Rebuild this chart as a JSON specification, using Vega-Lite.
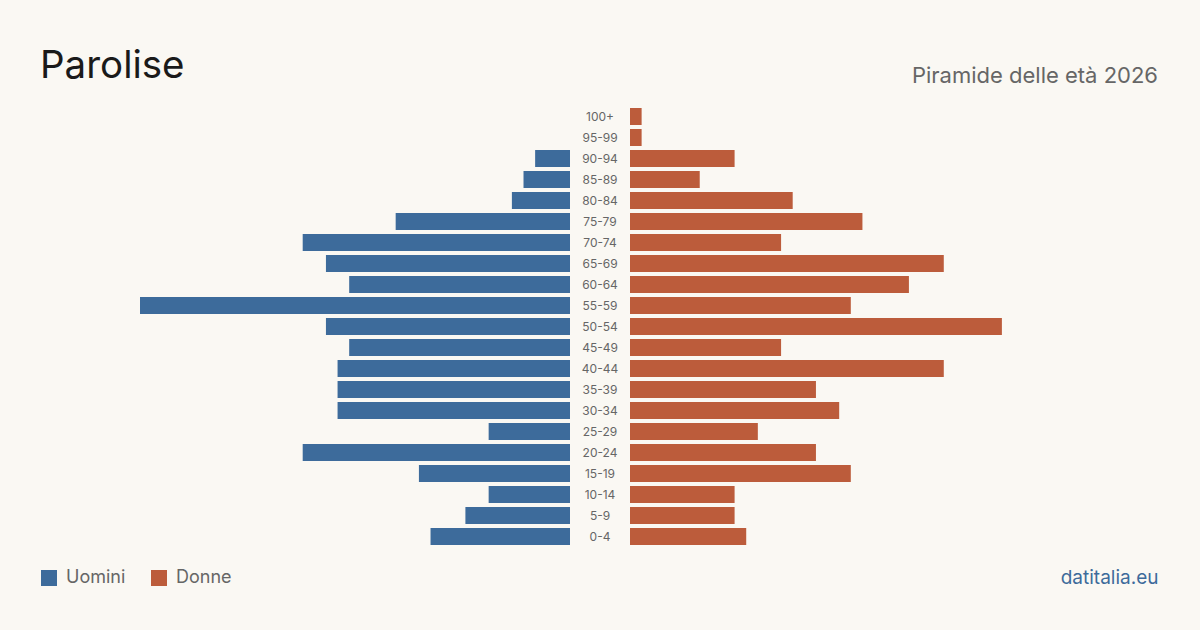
{
  "$schema": "https://vega.github.io/schema/vega-lite/v6.json",
  "background": "#faf8f3",
  "padding": {"left": 40, "top": 46, "right": 44, "bottom": 48},
  "autosize": {"type": "pad"},
  "config": {
    "view": {"stroke": null},
    "font": "Inter",
    "concat": {"spacing": 0}
  },
  "datasets": {
    "pop": [
      {"age": "100+", "sex": "Uomini", "value": 0}, {"age": "100+", "sex": "Donne", "value": 1},
      {"age": "95-99", "sex": "Uomini", "value": 0}, {"age": "95-99", "sex": "Donne", "value": 1},
      {"age": "90-94", "sex": "Uomini", "value": 3}, {"age": "90-94", "sex": "Donne", "value": 9},
      {"age": "85-89", "sex": "Uomini", "value": 4}, {"age": "85-89", "sex": "Donne", "value": 6},
      {"age": "80-84", "sex": "Uomini", "value": 5}, {"age": "80-84", "sex": "Donne", "value": 14},
      {"age": "75-79", "sex": "Uomini", "value": 15}, {"age": "75-79", "sex": "Donne", "value": 20},
      {"age": "70-74", "sex": "Uomini", "value": 23}, {"age": "70-74", "sex": "Donne", "value": 13},
      {"age": "65-69", "sex": "Uomini", "value": 21}, {"age": "65-69", "sex": "Donne", "value": 27},
      {"age": "60-64", "sex": "Uomini", "value": 19}, {"age": "60-64", "sex": "Donne", "value": 24},
      {"age": "55-59", "sex": "Uomini", "value": 37}, {"age": "55-59", "sex": "Donne", "value": 19},
      {"age": "50-54", "sex": "Uomini", "value": 21}, {"age": "50-54", "sex": "Donne", "value": 32},
      {"age": "45-49", "sex": "Uomini", "value": 19}, {"age": "45-49", "sex": "Donne", "value": 13},
      {"age": "40-44", "sex": "Uomini", "value": 20}, {"age": "40-44", "sex": "Donne", "value": 27},
      {"age": "35-39", "sex": "Uomini", "value": 20}, {"age": "35-39", "sex": "Donne", "value": 16},
      {"age": "30-34", "sex": "Uomini", "value": 20}, {"age": "30-34", "sex": "Donne", "value": 18},
      {"age": "25-29", "sex": "Uomini", "value": 7}, {"age": "25-29", "sex": "Donne", "value": 11},
      {"age": "20-24", "sex": "Uomini", "value": 23}, {"age": "20-24", "sex": "Donne", "value": 16},
      {"age": "15-19", "sex": "Uomini", "value": 13}, {"age": "15-19", "sex": "Donne", "value": 19},
      {"age": "10-14", "sex": "Uomini", "value": 7}, {"age": "10-14", "sex": "Donne", "value": 9},
      {"age": "5-9", "sex": "Uomini", "value": 9}, {"age": "5-9", "sex": "Donne", "value": 9},
      {"age": "0-4", "sex": "Uomini", "value": 12}, {"age": "0-4", "sex": "Donne", "value": 10}
    ]
  },
  "data": {"name": "pop"},
  "spacing": 0,
  "hconcat": [
    {
      "width": 430,
      "height": 441,
      "title": {"text": "Parolise", "anchor": "start", "dx": -100, "fontSize": 38.5, "fontWeight": "normal", "color": "#1a1a1a", "baseline": "alphabetic", "offset": -10},
      "transform": [{"filter": "datum.sex === 'Uomini'"}],
      "mark": {"type": "bar"},
      "encoding": {
        "y": {"field": "age", "type": "nominal", "sort": ["100+","95-99","90-94","85-89","80-84","75-79","70-74","65-69","60-64","55-59","50-54","45-49","40-44","35-39","30-34","25-29","20-24","15-19","10-14","5-9","0-4"], "scale": {"paddingInner": 0.19, "paddingOuter": 0.095}, "axis": null},
        "x": {"field": "value", "type": "quantitative", "scale": {"domain": [0, 37], "reverse": true, "nice": false, "zero": true}, "axis": null},
        "color": {"field": "sex", "type": "nominal", "scale": {"domain": ["Uomini", "Donne"], "range": ["#3d6b9b", "#bc5c3b"]},
          "legend": {"title": null, "orient": "none", "legendX": -100, "legendY": 463, "direction": "horizontal", "symbolType": "square", "symbolSize": 256, "symbolStrokeWidth": 0, "symbolOpacity": 1, "labelFontSize": 18, "labelColor": "#666666", "labelOffset": 8, "columnPadding": 24}}
      }
    },
    {
      "width": 60,
      "height": 441,
      "transform": [{"filter": "datum.sex === 'Donne'"}],
      "mark": {"type": "text", "fontSize": 12, "color": "#666666"},
      "encoding": {
        "y": {"field": "age", "type": "nominal", "sort": ["100+","95-99","90-94","85-89","80-84","75-79","70-74","65-69","60-64","55-59","50-54","45-49","40-44","35-39","30-34","25-29","20-24","15-19","10-14","5-9","0-4"], "scale": {"paddingInner": 0.19, "paddingOuter": 0.095}, "axis": null},
        "text": {"field": "age", "type": "nominal"}
      }
    },
    {
      "width": 430,
      "height": 441,
      "title": {"text": "Piramide delle età 2026", "anchor": "end", "dx": 0, "fontSize": 22, "fontWeight": "normal", "color": "#666666", "baseline": "alphabetic", "offset": 1},
      "transform": [{"filter": "datum.sex === 'Donne'"}],
      "mark": {"type": "bar"},
      "encoding": {
        "y": {"field": "age", "type": "nominal", "sort": ["100+","95-99","90-94","85-89","80-84","75-79","70-74","65-69","60-64","55-59","50-54","45-49","40-44","35-39","30-34","25-29","20-24","15-19","10-14","5-9","0-4"], "scale": {"paddingInner": 0.19, "paddingOuter": 0.095}, "axis": null},
        "x": {"field": "value", "type": "quantitative", "scale": {"domain": [0, 37], "nice": false, "zero": true},
          "axis": {"domain": false, "ticks": false, "labels": false, "grid": false, "title": "datitalia.eu", "titleAnchor": "end", "titleAlign": "right", "titleX": 528, "titleY": 36, "titleBaseline": "alphabetic", "titleFontSize": 19, "titleFontWeight": "normal", "titleColor": "#3d6b9b"}},
        "color": {"field": "sex", "type": "nominal", "scale": {"domain": ["Uomini", "Donne"], "range": ["#3d6b9b", "#bc5c3b"]}}
      }
    }
  ]
}
